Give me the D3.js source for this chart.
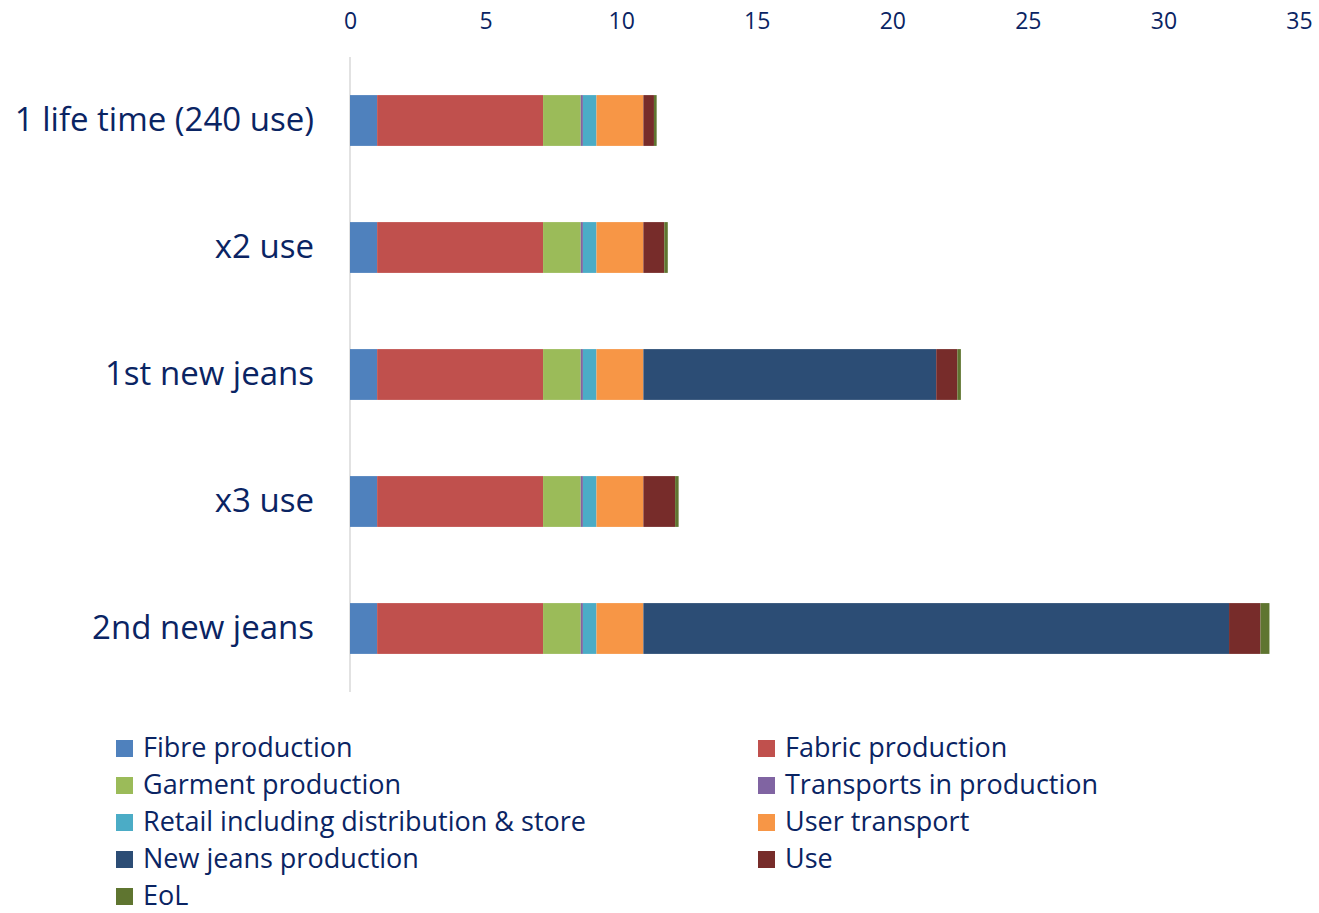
<!DOCTYPE html>
<html><head><meta charset="utf-8">
<script src="https://cdn.jsdelivr.net/npm/d3@7"></script>
<style>body{margin:0;background:#fff;} text{font-family:"Open Sans", Lato, sans-serif;}</style>
</head><body>
<svg id="chart" width="1319" height="913"></svg>
<script>
const categories = ["1 life time (240 use)", "x2 use", "1st new jeans", "x3 use", "2nd new jeans"];
const seriesNames = ["Fibre production", "Fabric production", "Garment production", "Transports in production", "Retail including distribution & store", "User transport", "New jeans production", "Use", "EoL"];
const seriesColors = ["#4f81bd", "#c0504d", "#9bbb59", "#8064a2", "#4bacc6", "#f79646", "#2c4d75", "#772c2a", "#5f7530"];
const fibre = [1.0, 1.0, 1.0, 1.0, 1.0];
const fabric = [6.12, 6.12, 6.12, 6.12, 6.12];
const garment = [1.39, 1.39, 1.39, 1.39, 1.39];
const transports = [0.08, 0.08, 0.08, 0.08, 0.08];
const retail = [0.5, 0.5, 0.5, 0.5, 0.5];
const userTransport = [1.73, 1.73, 1.73, 1.73, 1.73];
const newJeans = [0, 0, 10.8, 0, 21.6];
const use = [0.39, 0.77, 0.78, 1.17, 1.16];
const eol = [0.1, 0.13, 0.13, 0.13, 0.33];
const tickValues = [0, 5, 10, 15, 20, 25, 30, 35];

const seriesValues = [fibre, fabric, garment, transports, retail, userTransport, newJeans, use, eol];
const textColor = "#0a2463";
const svg = d3.select("#chart");

const x = d3.scaleLinear().domain([0, 35]).range([350, 1299]);
const y = d3.scaleBand().domain(categories).range([57, 692]).paddingInner(0.6).paddingOuter(0.3);

const rows = categories.map((c, i) => {
  const r = {cat: c};
  seriesNames.forEach((s, j) => r[s] = seriesValues[j][i]);
  return r;
});
const stacked = d3.stack().keys(seriesNames)(rows);

// axis line
svg.append("line").attr("x1", x(0)).attr("x2", x(0)).attr("y1", 57).attr("y2", 692)
  .attr("stroke", "#d9d9d9").attr("stroke-width", 1.5);

// top axis
const xAxis = svg.append("g").attr("transform", "translate(0,57)")
  .call(d3.axisTop(x).tickValues(tickValues).tickSize(0).tickPadding(28));
xAxis.select(".domain").remove();
xAxis.selectAll("text").attr("fill", textColor).style("font-size", "23px");

// bars
svg.append("g").selectAll("g").data(stacked).join("g")
  .attr("fill", (d, i) => seriesColors[i])
  .selectAll("rect").data(d => d).join("rect")
  .attr("x", d => x(d[0]))
  .attr("width", d => Math.max(0, x(d[1]) - x(d[0])))
  .attr("y", d => y(d.data.cat))
  .attr("height", y.bandwidth());

// category labels
const yAxis = svg.append("g").attr("transform", `translate(${x(0)},0)`)
  .call(d3.axisLeft(y).tickSize(0).tickPadding(36));
yAxis.select(".domain").remove();
yAxis.selectAll("text").attr("fill", textColor).style("font-size", "33px");

// legend
const legend = svg.append("g");
const legX = [116, 758];
seriesNames.forEach((s, i) => {
  const col = i % 2, row = Math.floor(i / 2);
  const gy = 748.5 + row * 37;
  legend.append("rect").attr("x", legX[col]).attr("y", gy - 8.5).attr("width", 17).attr("height", 17).attr("fill", seriesColors[i]);
  legend.append("text").attr("x", legX[col] + 27).attr("y", gy).attr("dy", "0.33em")
    .attr("fill", textColor).style("font-size", "27px").text(s);
});
</script>
</body></html>
